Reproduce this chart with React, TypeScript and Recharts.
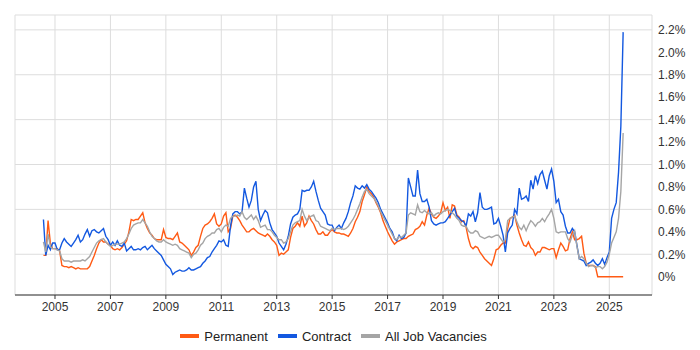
import { CartesianGrid, Line, LineChart, XAxis, YAxis } from "recharts";

// Monthly share of UK job ads, Aug 2004 – Jul 2025 (values in %).
const PERMANENT_COLOR = "#FF5A14";
const CONTRACT_COLOR = "#1358E0";
const ALL_COLOR = "#A5A5A5";
const GRID = "#DDDDDD";
const INK = "#333333";
const FONT = '"Liberation Sans", Arial, Helvetica, sans-serif';

const firstYear = 2004;
const firstMonth = 8; // August

const yearTicks = [2005, 2007, 2009, 2011, 2013, 2015, 2017, 2019, 2021, 2023, 2025];
const pctTicks = [0, 0.2, 0.4, 0.6, 0.8, 1.0, 1.2, 1.4, 1.6, 1.8, 2.0, 2.2];

const seriesNames = ["Permanent", "Contract", "All Job Vacancies"];

// one row per year, Jan..Dec (2004 starts in Aug, 2025 ends in Jul)
const permanent = [
  0.19, 0.19, 0.50, 0.30, 0.25,
  0.25, 0.25, 0.23, 0.10, 0.09, 0.09, 0.08, 0.09, 0.08, 0.07, 0.08, 0.07,
  0.07, 0.07, 0.07, 0.09, 0.14, 0.19, 0.25, 0.30, 0.33, 0.31, 0.31, 0.29,
  0.28, 0.25, 0.24, 0.25, 0.24, 0.26, 0.29, 0.32, 0.40, 0.51, 0.50, 0.51,
  0.51, 0.54, 0.57, 0.48, 0.43, 0.39, 0.37, 0.34, 0.33, 0.33, 0.33, 0.42,
  0.35, 0.34, 0.34, 0.33, 0.36, 0.39, 0.31, 0.30, 0.28, 0.26, 0.24, 0.19,
  0.22, 0.26, 0.28, 0.36, 0.43, 0.46, 0.47, 0.49, 0.52, 0.56, 0.47, 0.45,
  0.47, 0.54, 0.57, 0.40, 0.43, 0.54, 0.55, 0.53, 0.50, 0.46, 0.43, 0.40,
  0.40, 0.42, 0.43, 0.41, 0.39, 0.38, 0.37, 0.36, 0.38, 0.36, 0.33, 0.31,
  0.28, 0.19, 0.21, 0.20, 0.22, 0.24, 0.35, 0.43, 0.45, 0.48, 0.45, 0.54,
  0.45, 0.48, 0.54, 0.50, 0.47, 0.42, 0.38, 0.38, 0.40, 0.37, 0.37, 0.40,
  0.42, 0.40, 0.39, 0.39, 0.38, 0.38, 0.37, 0.36, 0.39, 0.43, 0.49, 0.53,
  0.58, 0.67, 0.73, 0.80, 0.76, 0.74, 0.71, 0.66, 0.62, 0.57, 0.50, 0.45,
  0.40, 0.36, 0.32, 0.29, 0.31, 0.32, 0.33, 0.34, 0.34, 0.36, 0.37, 0.38,
  0.42, 0.43, 0.45, 0.49, 0.46, 0.55, 0.61, 0.56, 0.53, 0.52, 0.54, 0.57,
  0.66, 0.59, 0.62, 0.52, 0.64, 0.63, 0.55, 0.53, 0.49, 0.50, 0.44, 0.34,
  0.27, 0.25, 0.27, 0.26, 0.22, 0.19, 0.16, 0.14, 0.12, 0.10, 0.16, 0.24,
  0.25, 0.28, 0.30, 0.30, 0.43, 0.52, 0.53, 0.55, 0.46, 0.39, 0.33, 0.28,
  0.27, 0.31, 0.26, 0.24, 0.19, 0.22, 0.22, 0.26, 0.26, 0.25, 0.24, 0.25,
  0.25, 0.17, 0.24, 0.30, 0.27, 0.23, 0.24, 0.34, 0.40, 0.33, 0.33, 0.34,
  0.36, 0.21, 0.12, 0.10, 0.10, 0.10, 0.09, 0.00, 0.00, 0.00, 0.00, 0.00,
  0.00, 0.00, 0.00, 0.00, 0.00, 0.00, 0.00,
];

const contract = [
  0.51, 0.19, 0.28, 0.24, 0.30,
  0.30, 0.24, 0.24, 0.30, 0.34, 0.31, 0.29, 0.27, 0.30, 0.33, 0.37, 0.31,
  0.33, 0.38, 0.42, 0.36, 0.41, 0.42, 0.40, 0.39, 0.41, 0.43, 0.36, 0.33,
  0.28, 0.31, 0.28, 0.32, 0.28, 0.27, 0.30, 0.23, 0.25, 0.27, 0.24, 0.24,
  0.25, 0.24, 0.26, 0.27, 0.24, 0.26, 0.28, 0.25, 0.23, 0.21, 0.19, 0.15,
  0.11, 0.09, 0.07, 0.02, 0.04, 0.05, 0.06, 0.05, 0.05, 0.06, 0.08, 0.06,
  0.06, 0.07, 0.08, 0.09, 0.12, 0.14, 0.17, 0.18, 0.22, 0.25, 0.28, 0.32,
  0.31, 0.33, 0.28, 0.27, 0.45, 0.56, 0.58, 0.58, 0.56, 0.58, 0.79, 0.70,
  0.62, 0.68, 0.80, 0.85, 0.60, 0.50, 0.55, 0.59, 0.57, 0.48, 0.42, 0.39,
  0.36, 0.30, 0.27, 0.24, 0.29, 0.36, 0.47, 0.53, 0.55, 0.56, 0.60, 0.77,
  0.76, 0.77, 0.77, 0.80, 0.85, 0.76, 0.68, 0.61, 0.58, 0.55, 0.47, 0.46,
  0.46, 0.41, 0.44, 0.46, 0.43, 0.48, 0.52, 0.58, 0.66, 0.72, 0.81, 0.79,
  0.78, 0.81, 0.79, 0.82, 0.78, 0.76, 0.73, 0.70, 0.66, 0.60, 0.56, 0.52,
  0.48, 0.43, 0.40, 0.34, 0.32, 0.37, 0.34, 0.35, 0.39, 0.88, 0.80, 0.72,
  0.72, 0.95, 0.74, 0.67, 0.67, 0.69, 0.62, 0.50, 0.47, 0.46, 0.47, 0.48,
  0.48, 0.49, 0.52, 0.55, 0.58, 0.61, 0.54, 0.52, 0.50, 0.49, 0.45, 0.56,
  0.54, 0.58, 0.49, 0.57, 0.75, 0.62, 0.60, 0.60, 0.61, 0.62, 0.47, 0.48,
  0.52, 0.45, 0.37, 0.22, 0.39, 0.43, 0.46, 0.60, 0.56, 0.79, 0.69, 0.70,
  0.72, 0.67, 0.86, 0.78, 0.90, 0.83, 0.91, 0.94, 0.86, 0.78, 0.90, 0.96,
  0.85, 0.66, 0.69, 0.58, 0.55, 0.45, 0.39, 0.39, 0.43, 0.40, 0.28, 0.16,
  0.15, 0.14, 0.10, 0.12, 0.13, 0.15, 0.12, 0.10, 0.12, 0.16, 0.11, 0.17,
  0.22, 0.52, 0.60, 0.66, 0.93, 1.34, 2.18,
];

const allJobs = [
  0.31, 0.22, 0.38, 0.27, 0.25,
  0.25, 0.24, 0.23, 0.16, 0.14, 0.14, 0.14, 0.13, 0.14, 0.14, 0.14, 0.14,
  0.15, 0.14, 0.16, 0.18, 0.22, 0.26, 0.30, 0.32, 0.33, 0.34, 0.31, 0.29,
  0.27, 0.28, 0.29, 0.29, 0.29, 0.30, 0.31, 0.34, 0.38, 0.43, 0.46, 0.47,
  0.48, 0.48, 0.51, 0.48, 0.45, 0.40, 0.36, 0.34, 0.32, 0.31, 0.31, 0.33,
  0.31, 0.30, 0.29, 0.28, 0.29, 0.28, 0.25, 0.24, 0.23, 0.22, 0.21, 0.17,
  0.20, 0.21, 0.24, 0.28, 0.30, 0.34, 0.36, 0.37, 0.39, 0.39, 0.42, 0.43,
  0.40, 0.44, 0.46, 0.45, 0.52, 0.54, 0.54, 0.55, 0.54, 0.58, 0.53, 0.51,
  0.53, 0.55, 0.51, 0.54, 0.50, 0.44, 0.45, 0.46, 0.42, 0.42, 0.40, 0.37,
  0.35, 0.33, 0.33, 0.30, 0.31, 0.34, 0.40, 0.46, 0.48, 0.49, 0.50, 0.60,
  0.54, 0.50, 0.53, 0.54, 0.55, 0.50, 0.49, 0.45, 0.44, 0.43, 0.42, 0.41,
  0.43, 0.42, 0.43, 0.43, 0.43, 0.42, 0.43, 0.45, 0.48, 0.51, 0.55, 0.60,
  0.65, 0.71, 0.76, 0.78, 0.74, 0.72, 0.70, 0.67, 0.63, 0.58, 0.54, 0.50,
  0.46, 0.42, 0.38, 0.34, 0.33, 0.36, 0.35, 0.37, 0.39, 0.55, 0.57, 0.56,
  0.55, 0.64, 0.58, 0.57, 0.59, 0.57, 0.56, 0.57, 0.54, 0.56, 0.57, 0.56,
  0.58, 0.59, 0.60, 0.59, 0.57, 0.55, 0.52, 0.50, 0.46, 0.45, 0.45, 0.41,
  0.39, 0.39, 0.41, 0.40, 0.36, 0.35, 0.34, 0.35, 0.36, 0.35, 0.36, 0.37,
  0.37, 0.34, 0.31, 0.33, 0.50, 0.52, 0.53, 0.54, 0.49, 0.44, 0.42, 0.46,
  0.41, 0.46, 0.50, 0.48, 0.45, 0.48, 0.49, 0.52, 0.49, 0.53, 0.56, 0.60,
  0.52, 0.40, 0.39, 0.40, 0.40, 0.40, 0.34, 0.31, 0.37, 0.41, 0.27, 0.16,
  0.18, 0.16, 0.12, 0.09, 0.10, 0.10, 0.08, 0.09, 0.09, 0.07, 0.09, 0.13,
  0.20, 0.30, 0.35, 0.40, 0.52, 0.76, 1.28,
];

const data = permanent.map((p, i) => ({
  t: firstYear + (firstMonth - 1 + i) / 12,
  permanent: p,
  contract: contract[i],
  all: allJobs[i],
}));

const colors = [PERMANENT_COLOR, CONTRACT_COLOR, ALL_COLOR];

function pct(v: number): string {
  return v === 0 ? "0%" : `${v.toFixed(1)}%`;
}

function LegendRow() {
  return (
    <div
      style={{
        position: "absolute",
        left: 15,
        top: 328,
        width: 637,
        height: 16,
        display: "flex",
        justifyContent: "center",
        alignItems: "center",
        fontFamily: FONT,
        fontSize: 13,
        color: "#222",
        whiteSpace: "nowrap",
      }}
    >
      {seriesNames.map((name, i) => (
        <div key={name} style={{ display: "flex", alignItems: "center", marginLeft: i === 0 ? 0 : 10 }}>
          <span style={{ display: "inline-block", width: 19, height: 4, background: colors[i], marginRight: 5 }} />
          <span>{name}</span>
        </div>
      ))}
    </div>
  );
}

export default function App() {
  return (
    <div style={{ position: "absolute", left: 0, top: 0, width: 700, height: 350, background: "#fff" }}>
      <LineChart
        width={700}
        height={350}
        data={data}
        margin={{ top: 15, right: 0, bottom: 35, left: 15 }}
        style={{ fontFamily: FONT }}
      >
        <CartesianGrid stroke={GRID} />
        <XAxis
          type="number"
          dataKey="t"
          domain={[2003.557, 2026.541]}
          allowDataOverflow
          ticks={yearTicks}
          tickFormatter={(v) => String(v)}
          height={20}
          tickSize={4}
          tickMargin={3}
          axisLine={{ stroke: INK }}
          tickLine={{ stroke: INK }}
          tick={{ fontSize: 12, fill: INK, fontFamily: FONT }}
        />
        <YAxis
          orientation="right"
          type="number"
          domain={[-0.163, 2.3325]}
          allowDataOverflow
          ticks={pctTicks}
          tickFormatter={pct}
          width={48}
          tickSize={6}
          tickMargin={0}
          axisLine={false}
          tickLine={false}
          tick={{ fontSize: 12, fill: INK, fontFamily: FONT }}
        />
        <Line type="linear" dataKey="permanent" stroke={PERMANENT_COLOR} strokeWidth={1.4} dot={false} isAnimationActive={false} />
        <Line type="linear" dataKey="contract" stroke={CONTRACT_COLOR} strokeWidth={1.4} dot={false} isAnimationActive={false} />
        <Line type="linear" dataKey="all" stroke={ALL_COLOR} strokeWidth={1.4} dot={false} isAnimationActive={false} />
      </LineChart>
      <LegendRow />
    </div>
  );
}
